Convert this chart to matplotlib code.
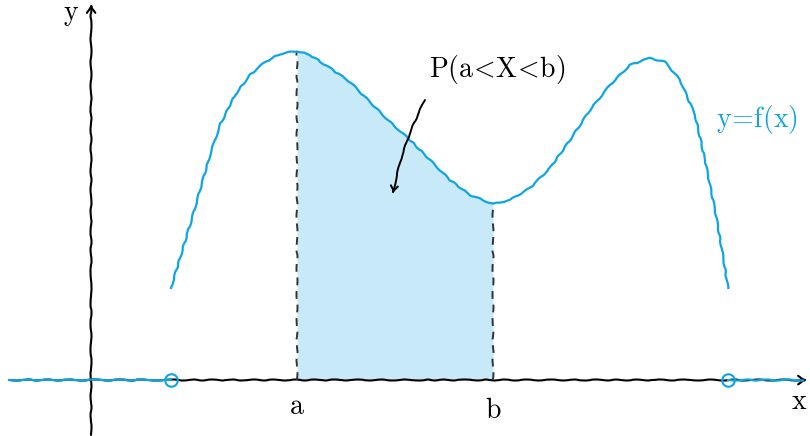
import numpy as np
import matplotlib
matplotlib.use("Agg")
import matplotlib.pyplot as plt

plt.rcParams['mathtext.fontset'] = 'cm'

# Curve sample points (x right from origin, y up from x-axis)
curve_x = [80, 89, 99, 109, 119, 129, 144, 159, 174, 189, 206, 219, 239, 259, 279, 299,
           319, 339, 359, 379, 402, 419, 439, 459, 479, 499, 519, 539, 559, 574, 589,
           604, 614, 624, 631, 637]
curve_y = [92, 122, 155, 190, 225, 255, 285, 305, 318, 326, 329, 325, 312, 298, 278, 258,
           240, 220, 200, 185, 176, 180, 192, 212, 240, 270, 295, 315, 322, 318, 300,
           265, 220, 170, 130, 92]
a_val, b_val = 206, 402
support = [80, 637]

BLUE = '#0ea5e4'
FILL = '#c8e9f8'

fig = plt.figure(figsize=(8.1, 4.36), dpi=100)
ax = fig.add_axes([0, 0, 1, 1])
ax.set_xlim(-91, 719)
ax.set_ylim(-56, 380)
ax.axis('off')

sk = (0.5, 28, 3)

# shaded area
xs = np.linspace(a_val, b_val, 200)
ys = np.interp(xs, curve_x, curve_y)
ax.fill_between(xs, 0, ys, color=FILL, lw=0, zorder=1)

# axes
xa = ax.annotate('', xy=(716, 0), xytext=(-82, 0),
                 arrowprops=dict(arrowstyle='->,head_length=0.5,head_width=0.3', color='black', lw=1.5,
                                 shrinkA=0, shrinkB=0), zorder=3)
ya = ax.annotate('', xy=(0, 376), xytext=(0, -55),
                 arrowprops=dict(arrowstyle='->,head_length=0.5,head_width=0.3', color='black', lw=1.5,
                                 shrinkA=0, shrinkB=0), zorder=3)
xa.arrow_patch.set_sketch_params(*sk)
ya.arrow_patch.set_sketch_params(*sk)

# density zero outside support
l1, = ax.plot([-82, support[0]], [0, 0], color=BLUE, lw=1.6, zorder=4)
l2, = ax.plot([support[1], 712], [0, 0], color=BLUE, lw=1.6, zorder=4)
l1.set_sketch_params(*sk); l2.set_sketch_params(*sk)
ax.plot(support, [0, 0], 'o', mfc='none', mec=BLUE, ms=9, mew=1.5, zorder=5)

# curve
c, = ax.plot(curve_x, curve_y, color=BLUE, lw=1.6, zorder=4)
c.set_sketch_params(0.55, 20, 3)

# dashed bounds
for xv in (a_val, b_val):
    yv = np.interp(xv, curve_x, curve_y)
    d, = ax.plot([xv, xv], [0, yv], color='#333333', lw=1.4, ls=(0, (4, 3)), zorder=3)
    d.set_sketch_params(0.5, 28, 3)

fs = 20
ax.text(a_val, -12, r'$\mathrm{a}$', ha='center', va='top', fontsize=fs)
ax.text(b_val, -16, r'$\mathrm{b}$', ha='center', va='top', fontsize=fs)
ax.text(708, -7, r'$\mathrm{x}$', ha='center', va='top', fontsize=fs)
ax.text(-12, 366, r'$\mathrm{y}$', ha='right', va='center', fontsize=fs)
ax.text(666, 260, r'$\mathrm{y\!=\!f(x)}$', ha='center', va='center', fontsize=fs, color=BLUE)
ax.text(338, 310, r'$\mathrm{P(a\!<\!X\!<\!b)}$', ha='left', va='center', fontsize=fs)

arr = ax.annotate('', xy=(302, 186), xytext=(334, 280),
                  arrowprops=dict(arrowstyle='->,head_length=0.45,head_width=0.25', color='black', lw=1.4,
                                  connectionstyle='arc3,rad=0.08',
                                  shrinkA=0, shrinkB=0), zorder=6)
arr.arrow_patch.set_sketch_params(0.5, 28, 3)

fig.savefig('out.png', dpi=100)
